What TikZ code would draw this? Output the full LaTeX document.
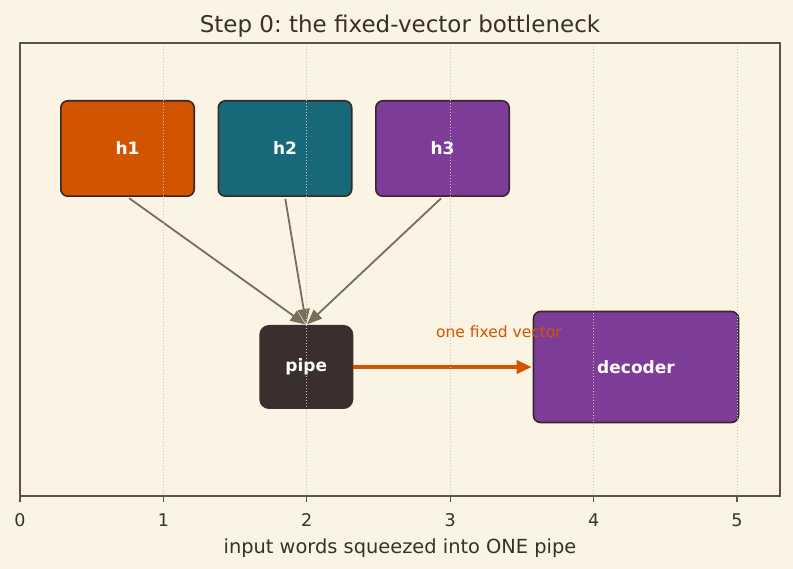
\documentclass[tikz,border=0pt]{standalone}
\usepackage{fontspec}
\setmainfont{DejaVu Sans}
\usetikzlibrary{arrows.meta}
\definecolor{Cream}{HTML}{FBF3E4}
\definecolor{Ink}{HTML}{3B3028}
\definecolor{Spine}{HTML}{5E5243}
\definecolor{GridGrey}{HTML}{CFC4B2}
\definecolor{FeedGrey}{HTML}{7A6E5B}
\definecolor{Pumpkin}{HTML}{D35400}
\definecolor{Teal}{HTML}{17697A}
\definecolor{Plum}{HTML}{7D3C98}
\definecolor{PipeDark}{HTML}{3A2F2E}
\definecolor{BoxEdge}{HTML}{3A2828}
\frenchspacing

\begin{document}
\begin{tikzpicture}[x=1pt, y=-1pt]
      \tikzstyle{box}=[draw=BoxEdge, line width=1.6pt, rounded corners=7pt, text=white, inner sep=0pt, font=\bfseries\fontsize{17}{20}\selectfont];
      \tikzstyle{feed}=[draw=FeedGrey, line width=1.8pt, -{Triangle[length=15pt, width=12pt]}, shorten <=2pt, shorten >=1pt];
      \tikzstyle{signal}=[draw=Pumpkin, line width=3.4pt, -{Triangle[length=15pt, width=13pt]}, shorten >=1pt];
      \tikzstyle{gridline}=[GridGrey, line width=0.8pt, dash pattern=on 1pt off 2pt];
      \tikzstyle{ticklbl}=[anchor=base, text=Ink, font=\fontsize{17.5}{21}\selectfont];

      \pgfmathsetmacro{\unit}{143.4}
      \pgfmathsetmacro{\toprow}{148.5}
      \pgfmathsetmacro{\midrow}{367}

      \fill[Cream] (0,0) rectangle (793,569);
      \useasboundingbox (0,0) rectangle (793,569);

      \node[anchor=base, text=Ink, font=\fontsize{23}{27}\selectfont] (title) at (400,33) {Step 0: the fixed-vector bottleneck};

      % encoder states
      \node[box, fill=Pumpkin, minimum width=133.4pt, minimum height=95.4pt] (h1) at (127.5,\toprow) {h1};
      \node[box, fill=Teal, minimum width=133.4pt, minimum height=95.4pt] (h2) at (285,\toprow) {h2};
      \node[box, fill=Plum, minimum width=133.4pt, minimum height=95.4pt] (h3) at (442.5,\toprow) {h3};

      \node[box, fill=PipeDark, draw=PipeDark, rounded corners=9pt, minimum width=92.4pt, minimum height=82.4pt] (pipe) at (306.3,\midrow) {pipe};
      \node[box, fill=Plum, minimum width=205pt, minimum height=111pt] (decoder) at (636,\midrow) {decoder};

      \draw[feed] (h1.south) -- (pipe.north);
      \draw[feed] (h2.south) -- (pipe.north);
      \draw[feed] (h3.south) -- (pipe.north);

      \draw[signal] (pipe.east) -- (decoder.west);
      \node[anchor=base, text=Pumpkin, font=\fontsize{15.5}{18}\selectfont] (fixedlbl) at (499,338) {one fixed vector};

      % axes
      \foreach \k in {1,...,5}
        \draw[gridline] ({20+\unit*\k},43) -- ({20+\unit*\k},496);
      \draw[Spine, line width=1.3pt] (20,43) rectangle (780,496);
      \foreach \k in {0,...,5} {
        \draw[Spine, line width=1.1pt] ({20+\unit*\k},496) -- ++(0,6);
        \node[ticklbl] (tick\k) at ({20+\unit*\k},526) {\k};
      }
      \node[anchor=base, text=Ink, font=\fontsize{19.4}{23}\selectfont] (xlabel) at (400,553) {input words squeezed into ONE pipe};
    \end{tikzpicture}
\end{document}
